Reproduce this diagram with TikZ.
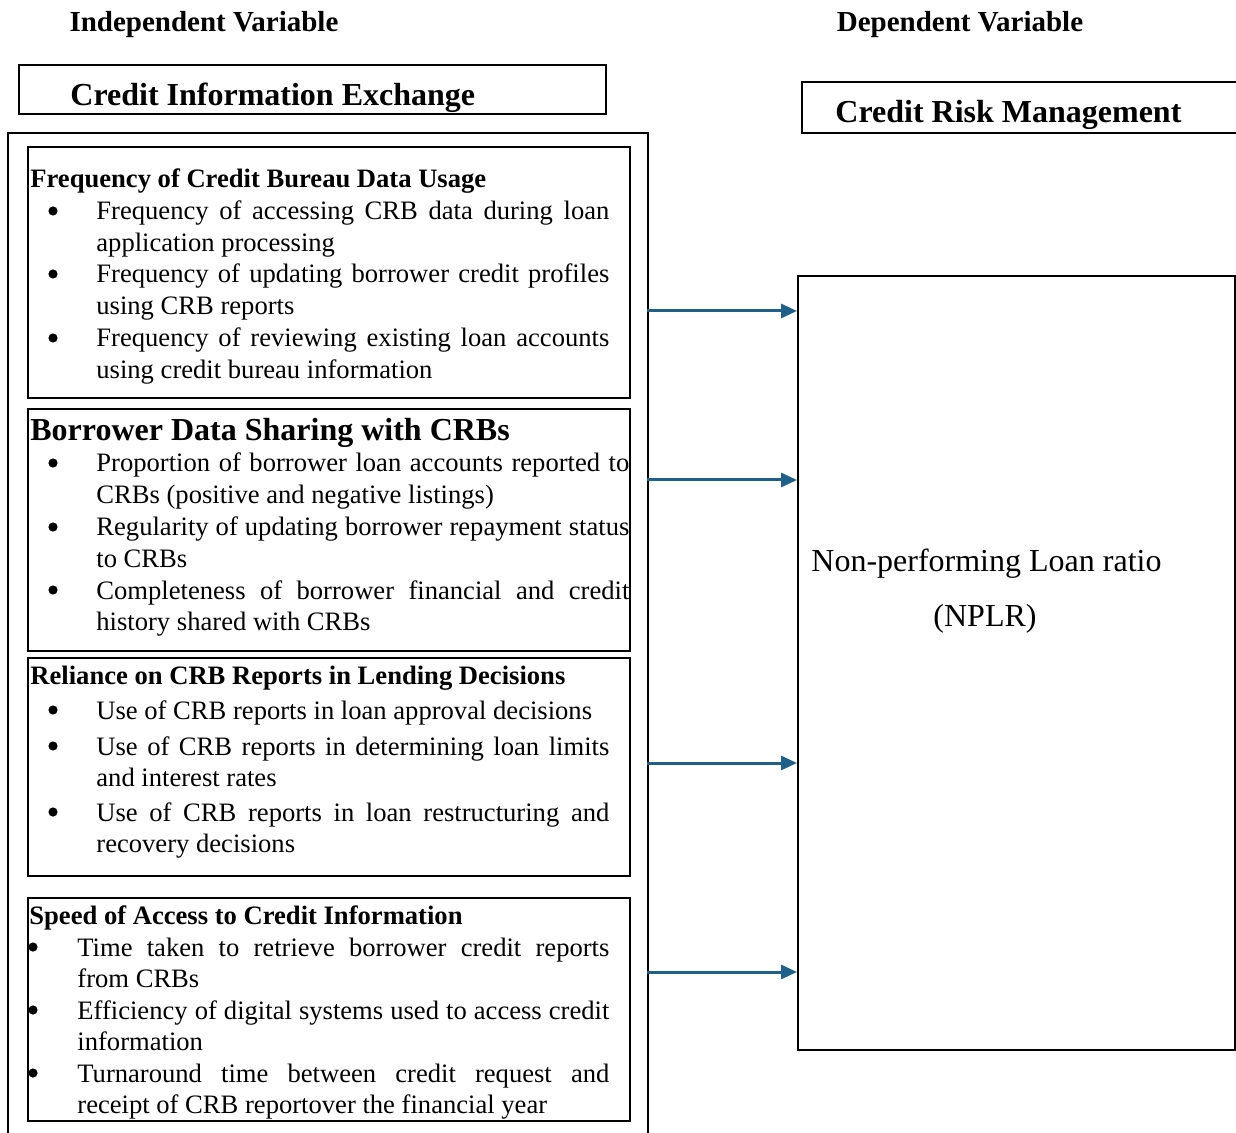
\documentclass[tikz,border=0pt]{standalone}
\usepackage{fontspec}
\setmainfont{Liberation Serif}
\usetikzlibrary{arrows.meta}
\definecolor{arrowblue}{RGB}{31,96,138}
\hyphenpenalty=10000
\exhyphenpenalty=10000
\tikzset{
  box/.style={draw, line width=1pt, rectangle, anchor=north west, inner sep=0pt},
  head/.style={anchor=base west, inner sep=0pt, font=\fontsize{13.3}{15.75}\selectfont\bfseries},
  bighead/.style={anchor=base west, inner sep=0pt, font=\fontsize{16}{19}\selectfont\bfseries},
  item/.style={anchor=base west, inner sep=0pt, align=justify, font=\fontsize{13.3}{15.75}\selectfont},
  dot/.style={circle, fill, inner sep=0pt, minimum size=4.6pt},
  link/.style={-{Triangle[length=8pt,width=7pt]}, line width=1.5pt, draw=arrowblue, arrowblue}
}
\begin{document}
\begin{tikzpicture}[x=0.5pt, y=-0.5pt]
\useasboundingbox (0,0) rectangle (1236,1133);
\clip (0,0) rectangle (1236,1133);
\node[anchor=base, inner sep=0pt, font=\fontsize{14.5}{17}\selectfont\bfseries] (ivlabel) at (204,32) {Independent Variable};
\node[anchor=base, inner sep=0pt, font=\fontsize{14.5}{17}\selectfont\bfseries] (dvlabel) at (960,32) {Dependent Variable};
\node[box, minimum width=293.5pt, minimum height=24.5pt] (ivtitle) at (18,64) {};
\node[bighead] (ivname) at (70,106) {Credit Information Exchange};
\node[box, minimum width=225pt, minimum height=25.5pt] (dvtitle) at (801,81) {};
\node[bighead] (dvname) at (835,123) {Credit Risk Management};
\node[box, minimum width=320pt, minimum height=510pt] (iv) at (7,132) {};
\node[box, minimum width=301pt, minimum height=125.5pt] (freq) at (27,146) {};
\node[box, minimum width=301pt, minimum height=121pt] (share) at (27,408) {};
\node[box, minimum width=301pt, minimum height=109pt] (rely) at (27,657) {};
\node[box, minimum width=301pt, minimum height=111.5pt] (speed) at (27,897) {};
\node[box, minimum width=218.5pt, minimum height=387pt] (nplr) at (797,275) {};
% frequency
\node[head] (freqhead) at (30,188) {Frequency of Credit Bureau Data Usage};
\node[dot] (fb1) at (53,211) {};
\node[item, text width=256.5pt] (fi1) at (96,220) {Frequency of accessing CRB data during loan application processing};
\node[dot] (fb2) at (53,274) {};
\node[item, text width=256.5pt] (fi2) at (96,283) {Frequency of updating borrower credit profiles using CRB reports};
\node[dot] (fb3) at (53,338) {};
\node[item, text width=256.5pt] (fi3) at (96,347) {Frequency of reviewing existing loan accounts using credit bureau information};
% sharing
\node[bighead] (sharehead) at (30,441) {Borrower Data Sharing with CRBs};
\node[dot] (sb1) at (53,463) {};
\node[item, text width=266.5pt] (si1) at (96,472) {Proportion of borrower loan accounts reported to CRBs (positive and negative listings)};
\node[dot] (sb2) at (53,527) {};
\node[item, text width=266.5pt] (si2) at (96,536) {Regularity of updating borrower repayment status to CRBs};
\node[dot] (sb3) at (53,590) {};
\node[item, text width=266.5pt] (si3) at (96,599) {Completeness of borrower financial and credit history shared with CRBs};
% reliance
\node[head] (relyhead) at (30,684) {Reliance on CRB Reports in Lending Decisions};
\node[dot] (rb1) at (53,710) {};
\node[item, text width=256.5pt] (ri1) at (96,719) {Use of CRB reports in loan approval decisions};
\node[dot] (rb2) at (53,746) {};
\node[item, text width=256.5pt] (ri2) at (96,755) {Use of CRB reports in determining loan limits and interest rates};
\node[dot] (rb3) at (53,812) {};
\node[item, text width=256.5pt] (ri3) at (96,821) {Use of CRB reports in loan restructuring and recovery decisions};
% speed
\node[head] (speedhead) at (29,924) {Speed of Access to Credit Information};
\node[dot] (pb1) at (33,947) {};
\node[item, text width=266pt] (pi1) at (77,956) {Time taken to retrieve borrower credit reports\linebreak from CRBs};
\node[dot] (pb2) at (33,1010) {};
\node[item, text width=266pt] (pi2) at (77,1019) {Efficiency of digital systems used to access credit information};
\node[dot] (pb3) at (33,1073) {};
\node[item, text width=266pt] (pi3) at (77,1082) {Turnaround time between credit request and receipt of CRB reportover the financial year};
% outcome
\node[anchor=base west, inner sep=0pt, font=\fontsize{16}{19}\selectfont] (nplrname) at (811,571) {Non-performing Loan ratio};
\node[anchor=base, inner sep=0pt, font=\fontsize{16}{19}\selectfont] (nplrabbr) at (985,626) {(NPLR)};
\coordinate (a1) at (647,311);
\coordinate (a2) at (647,480);
\coordinate (a3) at (647,763);
\coordinate (a4) at (647,972);
\foreach \a in {a1,a2,a3,a4}
  \draw[link] (\a) -- (\a -| nplr.west);
\end{tikzpicture}
\end{document}
